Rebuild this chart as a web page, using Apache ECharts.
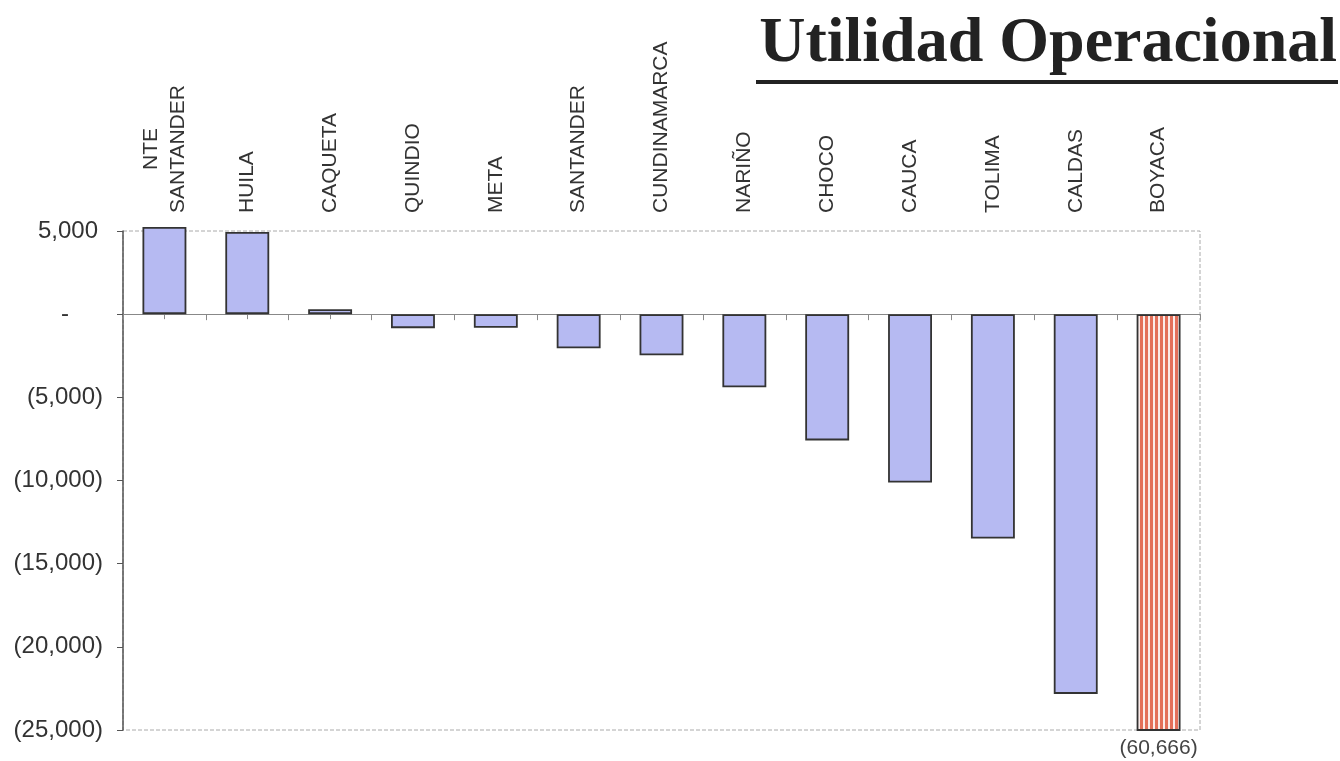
<!DOCTYPE html>
<html><head><meta charset="utf-8">
<script src="https://cdn.jsdelivr.net/npm/echarts@6/dist/echarts.min.js"></script>
<style>html,body{margin:0;padding:0;background:#fff}#c{width:1340px;height:761px}</style>
</head><body><div id="c"></div>
<script>
const categories = ['NTE\nSANTANDER','HUILA','CAQUETA','QUINDIO','META','SANTANDER','CUNDINAMARCA','NARIÑO','CHOCO','CAUCA','TOLIMA','CALDAS','BOYACA'];
const values = [5240, 4940, 300, -840, -820, -2050, -2470, -4400, -7590, -10120, -13490, -22830, -60666];
const highlightIndex = 12;
const yMin = -25000, yMax = 5000, yInterval = 5000;
const titleText = 'Utilidad Operacional';

function fmtNum(v) {
  if (v === 0) return '-';
  const s = Math.abs(v).toLocaleString('en-US');
  return v < 0 ? '(' + s + ')' : s;
}
function fmtY(v) {
  if (v === 0) return '{z|-}';
  if (v > 0) return '{p|' + fmtNum(v) + '}';
  return '{n|' + fmtNum(v) + '}';
}
const FONT = '"Liberation Sans", Arial, sans-serif';

const stripe = document.createElement('canvas');
stripe.width = 5; stripe.height = 10;
const sctx = stripe.getContext('2d');
sctx.fillStyle = '#fbecea'; sctx.fillRect(0, 0, 5, 10);
sctx.fillStyle = '#e3705a'; sctx.fillRect(0, 0, 3, 10);

const blueData = values.map((v, i) => i === highlightIndex ? '-' : v);
const redData = values.map((v, i) => i === highlightIndex ? v : '-');

const chart = echarts.init(document.getElementById('c'), null, {renderer: 'canvas'});
chart.setOption({
  animation: false,
  backgroundColor: '#fff',
  grid: {left: 123, right: 140, top: 231, bottom: 31, show: true, borderColor: '#aaa', borderWidth: 1, borderType: 'dashed', backgroundColor: 'transparent'},
  graphic: [
    {type: 'text', right: 3, top: 12, style: {text: titleText, font: 'bold 64px "Liberation Serif", "Times New Roman", serif', fill: '#222'}},
    {type: 'rect', right: 2, top: 80, shape: {width: 582, height: 4}, style: {fill: '#222'}}
  ],
  xAxis: [
    {type: 'category', data: categories, position: 'top', boundaryGap: true,
      axisLine: {show: false, onZero: false}, axisTick: {show: false},
      axisLabel: {rotate: -90, margin: 18, interval: 0, color: '#333',
        fontFamily: FONT, fontSize: 21,
        formatter: v => v.split('\n').map(s => '{c|' + s + '}').join('\n'),
        rich: {c: {align: 'center', fontSize: 21, color: '#333', fontFamily: FONT, lineHeight: 27}}}},
    {type: 'category', data: categories, position: 'bottom', boundaryGap: true,
      axisLine: {show: true, onZero: true, onZeroAxisIndex: 0, lineStyle: {color: '#888', width: 1}},
      axisTick: {show: true, interval: 0, length: 6, lineStyle: {color: '#888'}}, axisLabel: {show: false}},
    {type: 'category', data: categories, position: 'bottom', boundaryGap: true,
      axisLine: {show: false, onZero: true, onZeroAxisIndex: 1},
      axisTick: {show: true, interval: 0, alignWithLabel: true, length: 5, lineStyle: {color: '#888'}}, axisLabel: {show: false}}
  ],
  yAxis: [
    {type: 'value', min: yMin, max: yMax, interval: yInterval,
      axisLine: {show: true, lineStyle: {color: '#555', width: 1.5}},
      axisTick: {show: true, length: 6, lineStyle: {color: '#555'}},
      splitLine: {show: false},
      axisLabel: {formatter: fmtY, margin: 20, color: '#333', fontSize: 24, fontFamily: FONT,
        rich: {
          p: {fontSize: 24, fontFamily: FONT, color: '#333', padding: [0, 5, 0, 0]},
          n: {fontSize: 24, fontFamily: FONT, color: '#333'},
          z: {fontSize: 24, fontFamily: FONT, color: '#333', padding: [0, 34, 0, 0]}
        }}},
    {type: 'value', min: yMin, max: yMax, interval: yInterval, show: false}
  ],
  series: [
    {type: 'bar', xAxisIndex: 0, data: blueData, barWidth: '53%', barGap: '-100%', clip: false,
      itemStyle: {color: '#b6baf2', borderColor: '#333', borderWidth: 1.8}},
    {type: 'bar', xAxisIndex: 0, data: redData, barWidth: '53%', barGap: '-100%', clip: true,
      itemStyle: {color: {image: stripe, repeat: 'repeat'}, borderColor: '#333', borderWidth: 1.8},
      label: {show: true, position: 'bottom', distance: 7, color: '#444', fontSize: 21,
        fontFamily: FONT, formatter: p => fmtNum(p.value)}}
  ]
});
</script>
</body></html>
